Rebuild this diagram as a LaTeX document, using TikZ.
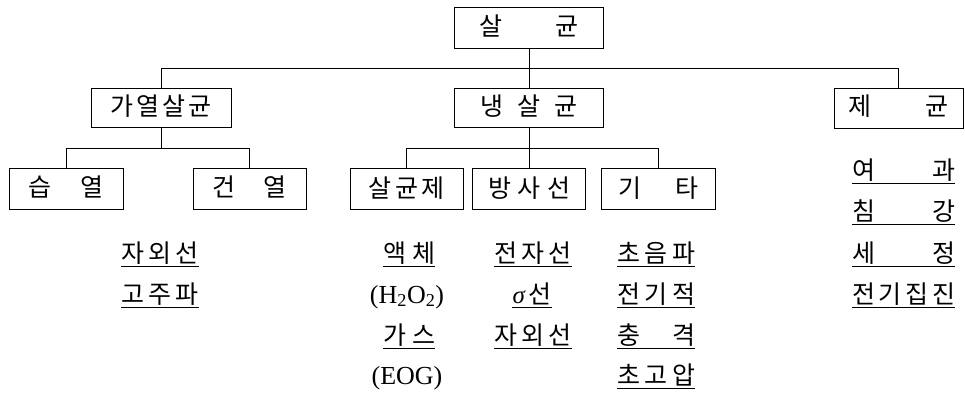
\documentclass[tikz,border=0pt]{standalone}
\usepackage{fontspec}
\setmainfont{Liberation Serif}
\newfontfamily\krfont{Noto Sans CJK KR}
\newcommand\spr[2]{\makebox[#1][s]{#2}}
\tikzset{
 basetxt/.style={inner sep=0pt, text height=20pt, text depth=4pt, font=\krfont\fontsize{25}{27}\selectfont},
 boxn/.style={basetxt, draw, line width=0.9pt, minimum height=40pt},
 item/.style={basetxt},
 latin/.style={basetxt, font=\rmfamily\fontsize{26}{28}\selectfont},
 link/.style={line width=0.9pt},
 uline/.style={line width=0.9pt}
}
\begin{document}
\begin{tikzpicture}[x=1pt,y=-1pt]
\useasboundingbox (0,0) rectangle (965,393);
% boxes
\node[boxn, minimum width=149pt, minimum height=41pt] (top) at (529,27.5) {\spr{99pt}{살\hfill 균}};
\node[boxn, minimum width=140pt, minimum height=39pt] (heat) at (161,107.5) {\spr{101pt}{가\hfill 열\hfill 살\hfill 균}};
\node[boxn, minimum width=149pt, minimum height=39pt] (cold) at (529,107.5) {\spr{97pt}{냉\hfill 살\hfill 균}};
\node[boxn, minimum width=129pt] (ster) at (898.5,108) {\spr{100pt}{제\hfill 균}};
\node[boxn, minimum width=114pt, minimum height=41pt] (wet) at (66,188.5) {\spr{75pt}{습\hfill 열}};
\node[boxn, minimum width=113pt, minimum height=41pt] (dry) at (249.5,188.5) {\spr{74pt}{건\hfill 열}};
\node[boxn, minimum width=113pt, minimum height=41pt] (chem) at (406.5,189) {\spr{76pt}{살\hfill 균\hfill 제}};
\node[boxn, minimum width=113pt, minimum height=41pt] (rad) at (529,189) {\spr{82pt}{방\hfill 사\hfill 선}};
\node[boxn, minimum width=114pt, minimum height=41pt] (etc) at (658,189) {\spr{80pt}{기\hfill 타}};
% connectors
\coordinate (bus0) at (0,68);
\coordinate (bus1) at (0,148);
\draw[link] (top.south) -- (cold.north);
\draw[link] (heat.north) -- (heat.north |- bus0) -- (ster.north |- bus0) -- (ster.north);
\draw[link] (heat.south) -- (heat.south |- bus1);
\draw[link] (wet.north) -- (wet.north |- bus1) -- (dry.north |- bus1) -- (dry.north);
\draw[link] (cold.south) -- (rad.north);
\draw[link] (chem.north) -- (chem.north |- bus1) -- (etc.north |- bus1) -- (etc.north);
% items
\node[item] (u1) at (160,254) {\spr{77pt}{자\hfill 외\hfill 선}};
\node[item] (u2) at (160,295) {\spr{77pt}{고\hfill 주\hfill 파}};
\node[item] (u3) at (409,254) {\spr{52pt}{액\hfill 체}};
\node[latin] (p1) at (407,295) {(H\textsubscript{2}O\textsubscript{2})};
\node[item] (u4) at (409,336) {\spr{52pt}{가\hfill 스}};
\node[latin] (p2) at (407,376) {(EOG)};
\node[item] (u5) at (533,254) {\spr{77pt}{전\hfill 자\hfill 선}};
\node[item] (u6) at (532,295) {\spr{39pt}{{\rmfamily\itshape σ}\hfill 선}};
\node[item] (u7) at (533,336) {\spr{77pt}{자\hfill 외\hfill 선}};
\node[item] (u8) at (656,254) {\spr{78pt}{초\hfill 음\hfill 파}};
\node[item] (u9) at (656,295) {\spr{78pt}{전\hfill 기\hfill 적}};
\node[item] (u10) at (656,336) {\spr{78pt}{충\hfill 격}};
\node[item] (u11) at (656,376) {\spr{78pt}{초\hfill 고\hfill 압}};
\node[item] (r1) at (903.5,171) {\spr{103pt}{여\hfill 과}};
\node[item] (r2) at (903.5,212) {\spr{103pt}{침\hfill 강}};
\node[item] (r3) at (903.5,254) {\spr{103pt}{세\hfill 정}};
\node[item] (r4) at (903.5,295) {\spr{103pt}{전\hfill 기\hfill 집\hfill 진}};
\foreach \n in {u1,u2,u3,u4,u5,u6,u7,u8,u9,u10,u11,r1,r2,r3,r4}
  \draw[uline] (\n.south west) -- (\n.south east);
\end{tikzpicture}
\end{document}
